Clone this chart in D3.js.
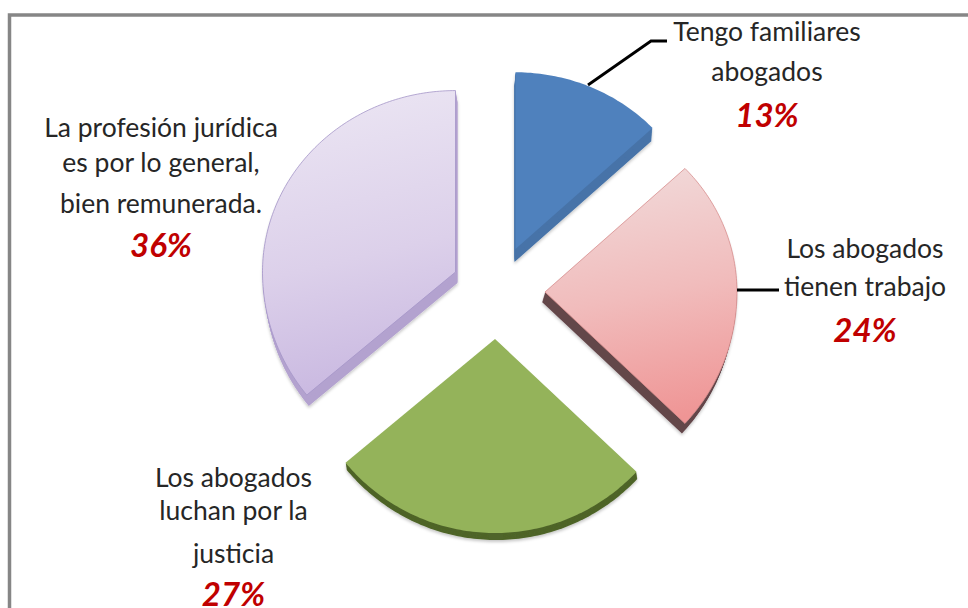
<!DOCTYPE html>
<html><head><meta charset="utf-8">
<script src="https://cdn.jsdelivr.net/npm/d3@7"></script>
<style>html,body{margin:0;padding:0;background:#fff}svg{display:block}text{font-family:Lato,"Open Sans",sans-serif}</style>
</head><body><div id="chart"></div>
<script>
const categories = ["Tengo familiares abogados","Los abogados tienen trabajo","Los abogados luchan por la justicia","La profesión jurídica es por lo general, bien remunerada."];
const labelLines = [["Tengo familiares","abogados"],["Los abogados","tienen trabajo"],["Los abogados","luchan por la","justicia"],["La profesión jurídica","es por lo general,","bien remunerada."]];
const values = [13,24,27,36];

const W=968,H=608,center=[500,288],kTop=0.94;
const radius=[188,192,194,193];
const explode=[[15.5,-39],[45,4],[-5,51],[-44.5,-16]];
const depth=[[-1,13],[-3,10],[1,7],[2,11]];
const topCol=["#4f81bd","url(#gPink)","#94b35a","url(#gPurple)"];
const sideCol=["#4673a8","#64464a","#4f6529","#b3a2cf"];
const edgeCol=["none","#d98f8f","none","#a596c8"];
const labelX=[767,865,233.5,161];
const labelY=[[41,81,127],[258,296,342],[487,520,563,606],[137,172,213,257]];

const svg=d3.select("#chart").append("svg").attr("width",W).attr("height",H);
const defs=svg.append("defs");
function grad(id,stops){const g=defs.append("linearGradient").attr("id",id).attr("x1",0.4).attr("y1",0).attr("x2",0.55).attr("y2",1);
  stops.forEach(s=>g.append("stop").attr("offset",s[0]).attr("stop-color",s[1]));}
grad("gPink",[[0,"#f1d9d9"],[0.5,"#f1bcbc"],[1,"#ef9595"]]);
grad("gPurple",[[0,"#ebe5f3"],[0.55,"#dcd0ea"],[1,"#c8b7e0"]]);
defs.append("filter").attr("id","soft").attr("x","-10%").attr("y","-10%").attr("width","120%").attr("height","120%")
  .append("feDropShadow").attr("dx",0).attr("dy",2).attr("stdDeviation",1.5).attr("flood-color","#000").attr("flood-opacity",0.22);

svg.append("path").attr("d",d3.line()([[W,15],[9.5,15],[9.5,H]])).attr("fill","none").attr("stroke","#868686").attr("stroke-width",3.5);

const pie=d3.pie().sort(null)(values);
const line=d3.line().curve(d3.curveLinear);
function outline(a,R){
  const n=Math.ceil((a.endAngle-a.startAngle)*60);
  const pts=[[0,0]];
  d3.range(n+1).forEach(i=>{
    const t=a.startAngle+(a.endAngle-a.startAngle)*i/n;
    const x=R*Math.sin(t),y=-R*Math.cos(t);
    pts.push([x,y<0?y*kTop:y]);
  });
  return line(pts)+"Z";
}
const slices=svg.selectAll("g.slice").data(pie).join("g").attr("class","slice")
  .attr("transform",(d,i)=>`translate(${center[0]+explode[i][0]},${center[1]+explode[i][1]})`);
slices.each(function(d,i){
  const g=d3.select(this);
  const side=g.append("g").attr("filter","url(#soft)");
  const steps=Math.abs(depth[i][1]);
  d3.range(steps,0,-1).forEach(k=>side.append("path").attr("d",outline(d,radius[i]))
    .attr("transform",`translate(${depth[i][0]*k/steps},${depth[i][1]*k/steps})`).attr("fill",sideCol[i]));
  g.append("path").attr("d",outline(d,radius[i])).attr("fill",topCol[i]).attr("stroke",edgeCol[i]).attr("stroke-width",0.8).attr("stroke-linejoin","round");
});

const leaders=[[[588,85],[651,41],[667,41]],[[737,290],[779,290]]];
svg.selectAll("path.leader").data(leaders).join("path").attr("class","leader").attr("d",line).attr("fill","none").attr("stroke","#000").attr("stroke-width",2.8);

categories.forEach((c,i)=>{
  labelLines[i].forEach((t,j)=>svg.append("text").attr("x",labelX[i]).attr("y",labelY[i][j]).attr("text-anchor","middle")
    .attr("font-size",26.5).attr("fill","#262626").text(t));
  svg.append("text").attr("x",labelX[i]).attr("y",labelY[i][labelLines[i].length]).attr("text-anchor","middle")
    .attr("font-size",33).attr("font-weight",700).attr("font-style","italic").attr("fill","#c00000").text(values[i]+"%");
});
</script></body></html>
